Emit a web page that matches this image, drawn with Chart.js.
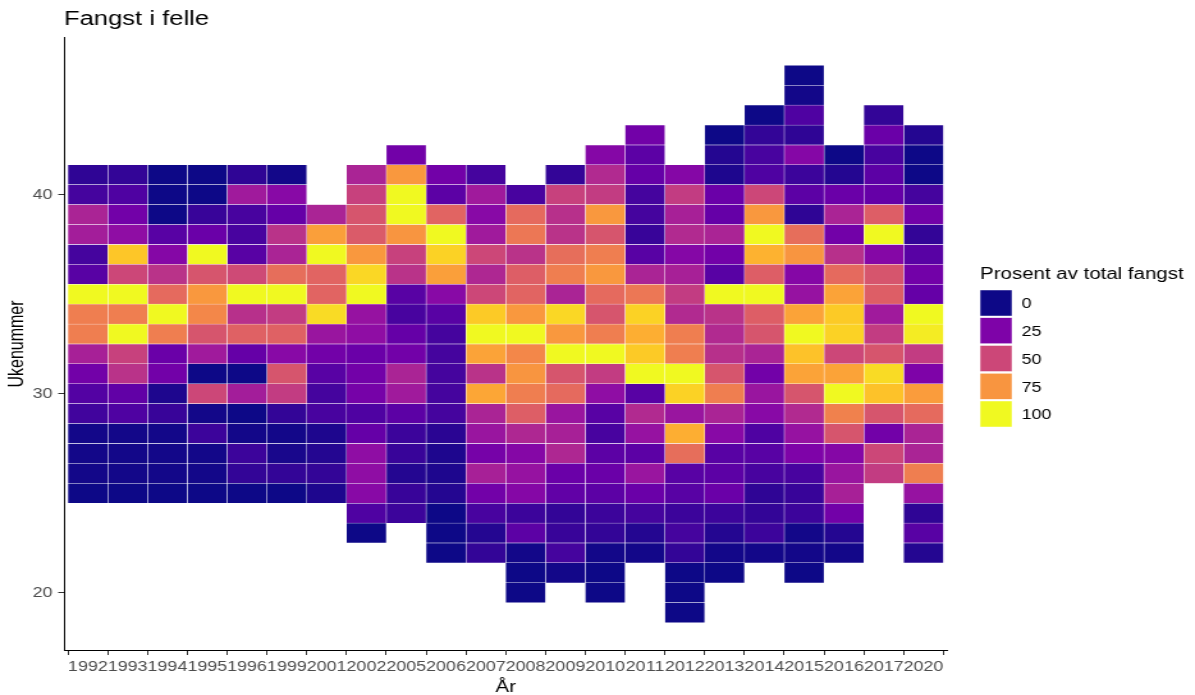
<!DOCTYPE html>
<html lang="no">
<head>
<meta charset="utf-8">
<title>Fangst i felle</title>
<script src="https://cdn.jsdelivr.net/npm/chart.js@4.4.1/dist/chart.umd.min.js"></script>
<style>
  html, body { margin: 0; padding: 0; background: #fff; overflow: hidden; }
  #frame { width: 934px; height: 695px; transform: scaleX(1.2794); transform-origin: 0 0; }
  canvas { display: block; }
</style>
</head>
<body>
<div id="frame"><canvas id="chart" width="934" height="695"></canvas></div>
<script>
// Years with trap records, and the highest week number caught in each year
const years = ['1992', '1993', '1994', '1995', '1996', '1999', '2001', '2002', '2005', '2006', '2007',
               '2008', '2009', '2010', '2011', '2012', '2013', '2014', '2015', '2016', '2017', '2020'];
const topWeek = [41, 41, 41, 41, 41, 41, 39, 41, 42, 41, 41, 40, 41, 42, 43, 41, 43, 44, 46, 42, 44, 43];

// Percent of total catch per week, listed from topWeek downwards
const p1992 = [6, 11, 38, 36, 11, 16, 100, 68, 68, 37, 22, 15, 10, 1, 1, 1, 0];
const p1993 = [7, 14, 22, 30, 88, 50, 100, 68, 100, 48, 43, 18, 14, 1, 1, 1, 0];
const p1994 = [0, 0, 0, 16, 27, 43, 62, 100, 68, 20, 22, 3, 8, 1, 1, 1, 0];
const p1995 = [0, 0, 8, 20, 100, 55, 76, 71, 55, 35, 0, 50, 1, 9, 1, 1, 0];
const p1996 = [6, 35, 12, 12, 16, 51, 100, 42, 59, 19, 0, 36, 0, 1, 9, 7, 0];
const p1999 = [1, 28, 19, 43, 38, 63, 100, 46, 59, 28, 55, 46, 7, 1, 2, 7, 0];
const p2001 = [38, 78, 100, 60, 60, 93, 33, 22, 16, 11, 12, 3, 4, 7, 3];
const p2002 = [38, 48, 55, 57, 76, 92, 100, 32, 30, 20, 22, 23, 14, 19, 30, 30, 28, 14, 0];
const p2005 = [22, 76, 100, 100, 75, 48, 43, 16, 12, 19, 22, 38, 35, 17, 9, 8, 4, 8, 9];
const p2006 = [22, 17, 60, 100, 91, 78, 28, 16, 11, 11, 11, 11, 11, 5, 3, 3, 4, 0, 0, 0];
const p2007 = [11, 35, 28, 35, 50, 39, 50, 89, 100, 79, 43, 80, 38, 33, 23, 37, 22, 12, 4, 7];
const p2008 = [12, 62, 66, 43, 58, 60, 76, 100, 71, 75, 68, 58, 39, 27, 32, 27, 9, 17, 1, 0, 0];
const p2009 = [7, 48, 42, 43, 63, 68, 38, 92, 76, 100, 55, 62, 33, 37, 39, 20, 18, 7, 8, 11, 1];
const p2010 = [27, 40, 46, 76, 55, 68, 76, 62, 55, 68, 100, 46, 30, 16, 12, 17, 20, 17, 9, 7, 1, 0, 0];
const p2011 = [22, 17, 19, 11, 11, 8, 16, 38, 66, 91, 82, 89, 100, 16, 40, 32, 17, 33, 20, 11, 4, 1];
const p2012 = [27, 46, 37, 40, 27, 37, 46, 40, 68, 68, 100, 91, 33, 82, 63, 16, 16, 9, 11, 7, 0, 0, 0];
const p2013 = [0, 4, 3, 20, 19, 38, 22, 16, 100, 43, 40, 42, 55, 68, 38, 28, 16, 17, 20, 9, 4, 1, 0];
const p2014 = [0, 7, 12, 14, 50, 76, 100, 83, 58, 100, 58, 55, 38, 22, 33, 28, 14, 16, 12, 6, 7, 9, 1];
const p2015 = [0, 1, 14, 6, 27, 9, 17, 6, 63, 75, 27, 32, 79, 100, 87, 79, 55, 40, 32, 25, 12, 8, 9, 1, 1, 0];
const p2016 = [0, 4, 20, 38, 22, 42, 62, 79, 89, 91, 50, 79, 100, 69, 55, 27, 33, 37, 22, 4, 1];
const p2017 = [7, 20, 12, 17, 19, 58, 100, 27, 55, 58, 35, 46, 55, 93, 87, 55, 22, 50, 46];
const p2020 = [4, 0, 0, 11, 22, 7, 16, 22, 19, 100, 97, 46, 25, 77, 62, 38, 38, 68, 32, 6, 16, 4];

const weekTicks = [20, 30, 40];
const keyStops = [0, 25, 50, 75, 100];

const shares = [p1992, p1993, p1994, p1995, p1996, p1999, p2001, p2002, p2005, p2006, p2007,
                p2008, p2009, p2010, p2011, p2012, p2013, p2014, p2015, p2016, p2017, p2020];

// Plasma colour ramp, 0..100
const plasmaStops = ['#0d0887', '#2a0593', '#41049d', '#5302a3', '#6a00a8', '#7e03a8', '#8f0da4',
  '#a01a9c', '#b12a90', '#bf3984', '#cc4778', '#d6556d', '#e16462', '#ea7457', '#f2844b',
  '#f89540', '#fca636', '#feba2c', '#fcce25', '#f7e425', '#f0f921'];
function hexRgb(h) { return [1, 3, 5].map(k => parseInt(h.slice(k, k + 2), 16)); }
function plasma(v) {
  const n = plasmaStops.length - 1;
  const t = Math.max(0, Math.min(1, v / 100)) * n;
  const i = Math.min(Math.floor(t), n - 1);
  const f = t - i;
  const a = hexRgb(plasmaStops[i]), b = hexRgb(plasmaStops[i + 1]);
  const c = a.map((q, k) => Math.round(q + (b[k] - q) * f));
  return `rgb(${c[0]},${c[1]},${c[2]})`;
}

const FAMILY = '"Liberation Sans", Arial, Helvetica, sans-serif';
Chart.defaults.font.family = FAMILY;

// One dataset per year; each week is a floating bar one week tall
const datasets = years.map((yr, i) => ({
  label: yr,
  data: shares[i].map((v, k) => {
    const w = topWeek[i] - k;
    return { x: i + 1, y: [w - 0.5, w + 0.5], v };
  }),
  backgroundColor: c => (c.raw ? plasma(c.raw.v) : '#ccc'),
  borderColor: 'rgba(255,255,255,0.95)',
  borderWidth: 0.5,
  borderSkipped: false,
  grouped: false,
  categoryPercentage: 1,
  barPercentage: 1
}));

// Colour key drawn to the right of the panel
const scaleKey = {
  id: 'scaleKey',
  afterDraw(chart) {
    const ctx = chart.ctx;
    const x = chart.chartArea.right + 25.5;
    ctx.save();
    ctx.textAlign = 'left';
    ctx.textBaseline = 'middle';
    ctx.fillStyle = '#000';
    ctx.font = '16px ' + FAMILY;
    ctx.fillText('Prosent av total fangst', x, 274.5);
    ctx.font = '14px ' + FAMILY;
    keyStops.forEach((v, i) => {
      const top = 290 + i * 27.75;
      ctx.fillStyle = plasma(v);
      ctx.fillRect(x, top, 25, 26);
      ctx.strokeStyle = 'rgba(255,255,255,0.9)';
      ctx.lineWidth = 0.5;
      ctx.strokeRect(x, top, 25, 26);
      ctx.fillStyle = '#000';
      ctx.fillText(String(v), x + 32.5, top + 14.5);
    });
    ctx.restore();
  }
};

const axisGrid = { display: true, drawOnChartArea: false, drawTicks: true, tickLength: 4.5, tickColor: '#333', tickWidth: 1 };
const axisBorder = { display: true, color: '#000', width: 1 };

new Chart(document.getElementById('chart'), {
  type: 'bar',
  data: { datasets },
  plugins: [scaleKey],
  options: {
    responsive: false,
    animation: false,
    events: [],
    layout: { padding: { left: 0, right: 193.5, top: 0, bottom: 0 } },
    plugins: {
      legend: { display: false },
      tooltip: { enabled: false },
      title: {
        display: true, text: 'Fangst i felle', align: 'start', fullSize: false,
        color: '#000', font: { size: 20, weight: 'normal' }, padding: { top: 7, bottom: 6.5 }
      }
    },
    scales: {
      x: {
        type: 'linear', min: 0.4, max: 22.6, offset: false,
        afterBuildTicks: s => { s.ticks = years.map((_, i) => ({ value: i + 1 })); },
        afterFit: s => { s.height = 44.5; },
        ticks: {
          callback: v => years[v - 1], autoSkip: false, maxRotation: 0, minRotation: 0,
          color: '#4d4d4d', font: { size: 14 }, padding: 3.5
        },
        grid: axisGrid,
        border: axisBorder,
        title: { display: true, text: 'År', color: '#000', font: { size: 16 }, padding: { top: 0, bottom: -2.6 } }
      },
      y: {
        type: 'linear', min: 17.1, max: 47.9,
        afterBuildTicks: s => { s.ticks = weekTicks.map(v => ({ value: v })); },
        afterFit: s => { s.width = 50; },
        ticks: { color: '#4d4d4d', font: { size: 14 }, padding: 4.5 },
        grid: axisGrid,
        border: axisBorder,
        title: { display: true, text: 'Ukenummer', color: '#000', font: { size: 16 }, padding: { top: 4, bottom: 0 } }
      }
    }
  }
});
</script>
</body>
</html>
